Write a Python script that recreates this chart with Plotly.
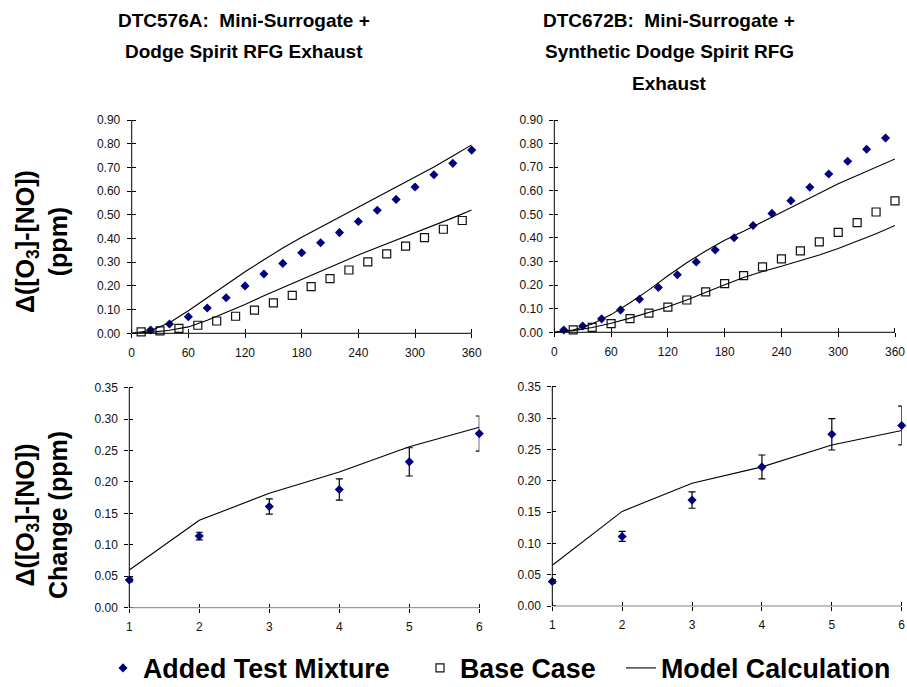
import plotly.graph_objects as go

# ---------------- data ----------------
# DTC576A (left)
t_test_A = [20, 40, 60, 80, 100, 120, 140, 160, 180, 200, 220, 240, 260, 280, 300, 320, 340, 360]
v_test_A = [0.014, 0.039, 0.070, 0.107, 0.150, 0.200, 0.250, 0.295, 0.340, 0.382, 0.425, 0.472,
            0.519, 0.565, 0.617, 0.669, 0.717, 0.773]
t_base_A = [10, 30, 50, 70, 90, 110, 130, 150, 170, 190, 210, 230, 250, 270, 290, 310, 330, 350]
v_base_A = [0.006, 0.010, 0.021, 0.034, 0.052, 0.072, 0.098, 0.128, 0.160, 0.197, 0.231, 0.267,
            0.301, 0.335, 0.368, 0.404, 0.439, 0.476]
t_model = [0, 20, 40, 60, 80, 100, 120, 140, 160, 180, 200, 220, 240, 260, 280, 300, 320, 340, 360]
m_test_A = [0.0, 0.012, 0.045, 0.095, 0.150, 0.205, 0.260, 0.310, 0.360, 0.405, 0.447, 0.489,
            0.531, 0.573, 0.615, 0.658, 0.702, 0.748, 0.795]
m_base_A = [0.0, 0.004, 0.013, 0.027, 0.055, 0.088, 0.122, 0.158, 0.193, 0.228, 0.262, 0.296,
            0.330, 0.362, 0.393, 0.423, 0.455, 0.487, 0.520]

# DTC672B (right)
t_test_B = [10, 30, 50, 70, 90, 110, 130, 150, 170, 190, 210, 230, 250, 270, 290, 310, 330, 350]
v_test_B = [0.010, 0.027, 0.057, 0.095, 0.140, 0.190, 0.244, 0.298, 0.349, 0.401, 0.453, 0.504,
            0.558, 0.615, 0.671, 0.725, 0.776, 0.824]
t_base_B = [20, 40, 60, 80, 100, 120, 140, 160, 180, 200, 220, 240, 260, 280, 300, 320, 340, 360]
v_base_B = [0.010, 0.021, 0.037, 0.058, 0.081, 0.107, 0.137, 0.171, 0.206, 0.240, 0.277, 0.311,
            0.345, 0.383, 0.424, 0.465, 0.510, 0.557]
m_test_B = [0.0, 0.010, 0.035, 0.075, 0.125, 0.180, 0.240, 0.295, 0.345, 0.390, 0.428, 0.468,
            0.510, 0.550, 0.590, 0.630, 0.665, 0.700, 0.735]
m_base_B = [0.0, 0.007, 0.020, 0.038, 0.060, 0.083, 0.108, 0.137, 0.170, 0.202, 0.232, 0.258,
            0.280, 0.303, 0.328, 0.355, 0.385, 0.418, 0.453]

# Change plots (bottom)
hours = [1, 2, 3, 4, 5, 6]
chg_A = [0.044, 0.114, 0.161, 0.188, 0.232, 0.277]
err_A = [0.003, 0.006, 0.012, 0.017, 0.0225, 0.028]
mchg_A = [0.060, 0.139, 0.182, 0.216, 0.256, 0.287]
chg_B = [0.039, 0.111, 0.169, 0.222, 0.274, 0.288]
err_B = [0.003, 0.008, 0.013, 0.019, 0.025, 0.031]
mchg_B = [0.065, 0.151, 0.196, 0.222, 0.257, 0.280]

# tick values
time_ticks = [0, 60, 120, 180, 240, 300, 360]
conc_ticks = [0.0, 0.1, 0.2, 0.3, 0.4, 0.5, 0.6, 0.7, 0.8, 0.9]
hour_ticks = [1, 2, 3, 4, 5, 6]
chg_ticks = [0.0, 0.05, 0.10, 0.15, 0.20, 0.25, 0.30, 0.35]

title_A_lines = ["DTC576A:\u00a0 Mini-Surrogate +", "Dodge Spirit RFG Exhaust"]
title_B_lines = ["DTC672B:\u00a0 Mini-Surrogate +", "Synthetic Dodge Spirit RFG", "Exhaust"]
ytitle_top = "\u0394([O<sub>3</sub>]-[NO])<br>(ppm)"
ytitle_bot = "\u0394([O<sub>3</sub>]-[NO])<br>Change (ppm)"
legend_names = ["Added Test Mixture", "Base Case", "Model Calculation"]

# ---------------- styles ----------------
W, H = 907, 687
NAVY = "#000080"
FONT = "Liberation Sans, Arial, sans-serif"

def px_x(p):
    return p / W

def px_y(p):
    return 1 - p / H

fig = go.Figure()

diamond = dict(symbol="diamond", size=7, color=NAVY, line=dict(width=0))
square = dict(symbol="square-open", size=8, color="#111111", line=dict(width=1.2))
mline = dict(color="black", width=1.1)

def add_top(xa, ya, tt, vt, tb, vb, mt, mb, show):
    fig.add_trace(go.Scatter(x=tt, y=vt, mode="markers", marker=diamond, xaxis=xa, yaxis=ya,
                             name=legend_names[0], showlegend=show, legend="legend", cliponaxis=False))
    fig.add_trace(go.Scatter(x=tb, y=vb, mode="markers", marker=square, xaxis=xa, yaxis=ya,
                             name=legend_names[1], showlegend=show, legend="legend2", cliponaxis=False))
    fig.add_trace(go.Scatter(x=t_model, y=mt, mode="lines", line=mline, xaxis=xa, yaxis=ya,
                             name=legend_names[2], showlegend=show, legend="legend3", cliponaxis=False))
    fig.add_trace(go.Scatter(x=t_model, y=mb, mode="lines", line=mline, xaxis=xa, yaxis=ya,
                             name=legend_names[2], showlegend=False, cliponaxis=False))

def add_bot(xa, ya, c, e, m):
    fig.add_trace(go.Scatter(x=hours, y=m, mode="lines", line=mline, xaxis=xa, yaxis=ya,
                             showlegend=False, cliponaxis=False))
    fig.add_trace(go.Scatter(x=hours, y=c, mode="markers", marker=diamond, xaxis=xa, yaxis=ya,
                             error_y=dict(type="data", array=e, visible=True, color="black",
                                          thickness=1.2, width=3.5),
                             showlegend=False, cliponaxis=False))

add_top("x", "y", t_test_A, v_test_A, t_base_A, v_base_A, m_test_A, m_base_A, True)
add_top("x2", "y2", t_test_B, v_test_B, t_base_B, v_base_B, m_test_B, m_base_B, False)
add_bot("x3", "y3", chg_A, err_A, mchg_A)
add_bot("x4", "y4", chg_B, err_B, mchg_B)

tickfont = dict(family=FONT, size=12, color="#111111")

def nudged(vals, span):
    eps = span * 1e-4
    return [v + eps for v in vals[:-1]] + [vals[-1] - eps]

def minor(vals, span):
    return dict(tickmode="array", tickvals=nudged(vals, span), ticks="inside", ticklen=4,
                tickcolor="black", tickwidth=1, showgrid=False)

def xax(dom, rng, vals, anchor):
    return dict(domain=dom, range=rng, tickmode="array", tickvals=vals, anchor=anchor,
                showgrid=False, zeroline=False, showline=False, automargin=False,
                ticks="outside", ticklen=4, tickcolor="black", tickwidth=1,
                minor=minor(vals, rng[1] - rng[0]),
                tickfont=tickfont, ticklabelstandoff=4, fixedrange=True)

def yax(dom, rng, vals, anchor):
    return dict(domain=dom, range=rng, tickmode="array", tickvals=vals, anchor=anchor,
                tickformat=".2f", automargin=False,
                showgrid=False, zeroline=False, showline=False,
                ticks="outside", ticklen=4, tickcolor="black", tickwidth=1,
                minor=minor(vals, rng[1] - rng[0]),
                tickfont=tickfont, ticklabelstandoff=4, fixedrange=True)

dTL = ([px_x(131.7), px_x(471.7)], [px_y(333.3), px_y(120)])
dTR = ([px_x(554.3), px_x(895.0)], [px_y(332.3), px_y(120)])
dBL = ([px_x(129.3), px_x(479.3)], [px_y(607.7), px_y(387.7)])
dBR = ([px_x(552.3), px_x(901.7)], [px_y(606.0), px_y(386.7)])

TR_, YR_ = [0, 360], [0, 0.9]
HR_, CR_ = [1, 6], [0, 0.35]

fig.update_layout(
    xaxis=xax(dTL[0], TR_, time_ticks, "y"), yaxis=yax(dTL[1], YR_, conc_ticks, "x"),
    xaxis2=xax(dTR[0], TR_, time_ticks, "y2"), yaxis2=yax(dTR[1], YR_, conc_ticks, "x2"),
    xaxis3=xax(dBL[0], HR_, hour_ticks, "y3"), yaxis3=yax(dBL[1], CR_, chg_ticks, "x3"),
    xaxis4=xax(dBR[0], HR_, hour_ticks, "y4"), yaxis4=yax(dBR[1], CR_, chg_ticks, "x4"),
)

# axis lines (domain-referenced, so they follow each subplot's frame)
shapes = []
for k, xcol in [("", "black"), ("2", "black"), ("3", "#808080"), ("4", "#808080")]:
    xr, yr = "x%s domain" % k, "y%s domain" % k
    shapes.append(dict(type="line", xref=xr, yref=yr, x0=0, x1=1, y0=0, y1=0,
                       line=dict(color=xcol, width=1), layer="above"))
    shapes.append(dict(type="line", xref=xr, yref=yr, x0=0, x1=0, y0=0, y1=1,
                       line=dict(color="black", width=1), layer="above"))
fig.update_layout(shapes=shapes)

legfont = dict(family=FONT, size=26.8, color="black", weight="bold")
legbase = dict(orientation="h", yanchor="middle", xanchor="left", y=px_y(668),
               bgcolor="rgba(0,0,0,0)", borderwidth=0, font=legfont, itemclick=False,
               itemdoubleclick=False)
fig.update_layout(
    legend=dict(legbase, x=px_x(103)),
    legend2=dict(legbase, x=px_x(420)),
    legend3=dict(legbase, x=px_x(621)),
)

titlefont = dict(family=FONT, size=19, color="black", weight="bold")
ytfont = dict(family=FONT, size=25, color="black", weight="bold")
annos = []
for i, line in enumerate(title_A_lines):
    annos.append(dict(text=line, x=px_x(244), y=px_y(20 + 32 * i), xref="paper", yref="paper",
                      xanchor="center", yanchor="middle", showarrow=False, font=titlefont))
for i, line in enumerate(title_B_lines):
    annos.append(dict(text=line, x=px_x(669), y=px_y(20 + 32 * i), xref="paper", yref="paper",
                      xanchor="center", yanchor="middle", showarrow=False, font=titlefont))
annos.append(dict(text=ytitle_top, x=px_x(41), y=px_y(242), xref="paper", yref="paper",
                  xanchor="center", yanchor="middle", showarrow=False, font=ytfont,
                  textangle=-90, align="center"))
annos.append(dict(text=ytitle_bot, x=px_x(41), y=px_y(515), xref="paper", yref="paper",
                  xanchor="center", yanchor="middle", showarrow=False, font=ytfont,
                  textangle=-90, align="center"))
fig.update_layout(annotations=annos)

fig.update_layout(template="none", width=W, height=H,
                  margin=dict(l=0, r=0, t=0, b=0, pad=0, autoexpand=False),
                  font=dict(family=FONT, color="black"),
                  paper_bgcolor="white", plot_bgcolor="white", showlegend=True)

fig.write_html("out.html", config={"displayModeBar": False},
               post_script="document.body.style.margin='0';document.body.style.padding='0';")
